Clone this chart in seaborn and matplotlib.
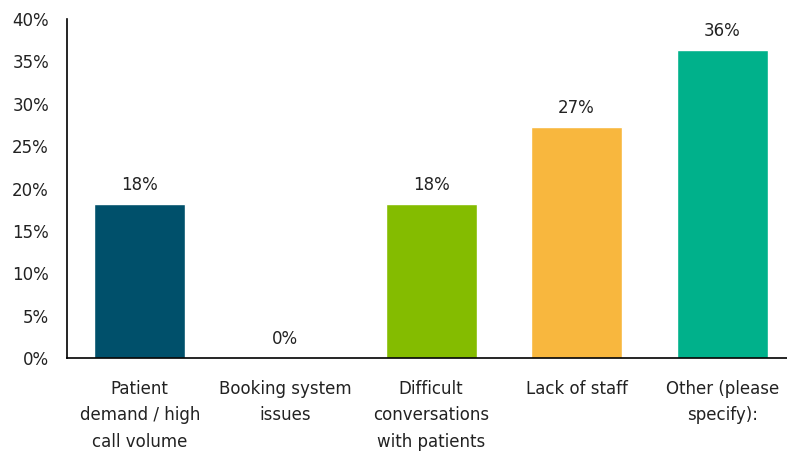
import matplotlib
matplotlib.use("Agg")
import matplotlib.pyplot as plt
import seaborn as sns
import pandas as pd
import numpy as np

categories = ["Patient\ndemand / high\ncall volume", "Booking system\nissues",
              "Difficult\nconversations\nwith patients", "Lack of staff",
              "Other (please\nspecify):"]
values = [18.18, 0.0, 18.18, 27.27, 36.36]
labels = ["18%", "0%", "18%", "27%", "36%"]
colors = ["#00506B", "#00506B", "#84BC00", "#F8B73E", "#00B18B"]
yticks = [0, 5, 10, 15, 20, 25, 30, 35, 40]

sns.set_style("white")
plt.rcParams['font.family'] = ['DejaVu Sans']

FS = 12
TXT = "#222222"

df = pd.DataFrame({"cat": categories, "val": values})

fig = plt.figure(figsize=(7.87, 4.53), dpi=100)
ax = fig.add_axes([67/787, (453-358)/453, 728/787, (358-19)/453])
sns.barplot(data=df, x="cat", y="val", hue="cat", palette=colors, legend=False,
            width=0.625, ax=ax, saturation=1)

for cont, lab in zip(ax.containers, labels):
    ax.bar_label(cont, labels=[lab], padding=7, fontsize=FS, color=TXT)

ax.set_xlim(-0.5, 4.5)
ax.set_ylim(0, 40)
ax.set_yticks(yticks)
ax.set_yticklabels([f"{t}%" for t in yticks], fontsize=FS, color=TXT)
ax.set_xlabel("")
ax.set_ylabel("")
ax.set_xticks(range(5))
ax.set_xticklabels(categories, fontsize=FS, color=TXT, linespacing=1.63)
ax.set_xticks(np.arange(-0.5, 5.0, 1.0), minor=True)
ax.tick_params(axis="x", which="major", length=0, pad=15.5)
ax.tick_params(axis="x", which="minor", length=6, width=1.2, color="black", direction="out")
ax.tick_params(axis="y", length=6, width=1.2, color="black", direction="out", pad=7)
for s in ["top", "right"]:
    ax.spines[s].set_visible(False)
for s in ["left", "bottom"]:
    ax.spines[s].set_color("black")
    ax.spines[s].set_linewidth(1.2)
ax.grid(False)

fig.savefig("out.png", dpi=100)
